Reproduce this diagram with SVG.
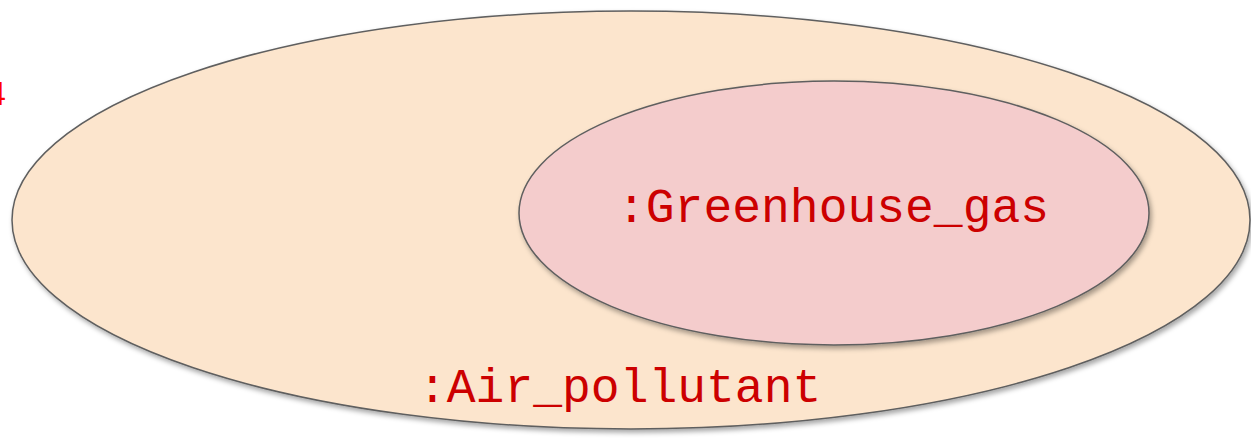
<svg xmlns="http://www.w3.org/2000/svg" width="1251" height="448" viewBox="0 0 1251 448">
<style>
.set{stroke:#5f5f5f;stroke-width:1.5;filter:url(#sh)}
.lbl{font-family:"Liberation Mono","Courier New",monospace;font-size:48px;fill:#cc0000}
</style>
<defs>
<filter id="sh" x="-5%" y="-5%" width="110%" height="115%">
<feDropShadow dx="2" dy="3" stdDeviation="2.5" flood-color="#000" flood-opacity="0.35"/>
</filter>
</defs>
<rect width="1251" height="448" fill="#fff"/>
<text x="-13" y="105" font-family="Liberation Sans, Arial, sans-serif" font-size="34" fill="#ff0000">4</text>
<g id="air_pollutant">
<ellipse class="set" cx="631" cy="220" rx="619" ry="209" fill="#fce5cd"/>
<text class="lbl" x="418" y="402">:Air_pollutant</text>
</g>
<g id="greenhouse_gas">
<ellipse class="set" cx="834" cy="213" rx="315" ry="132" fill="#f4cccc"/>
<text class="lbl" x="617" y="222">:Greenhouse_gas</text>
</g>
<g id="connectors"/>
</svg>
